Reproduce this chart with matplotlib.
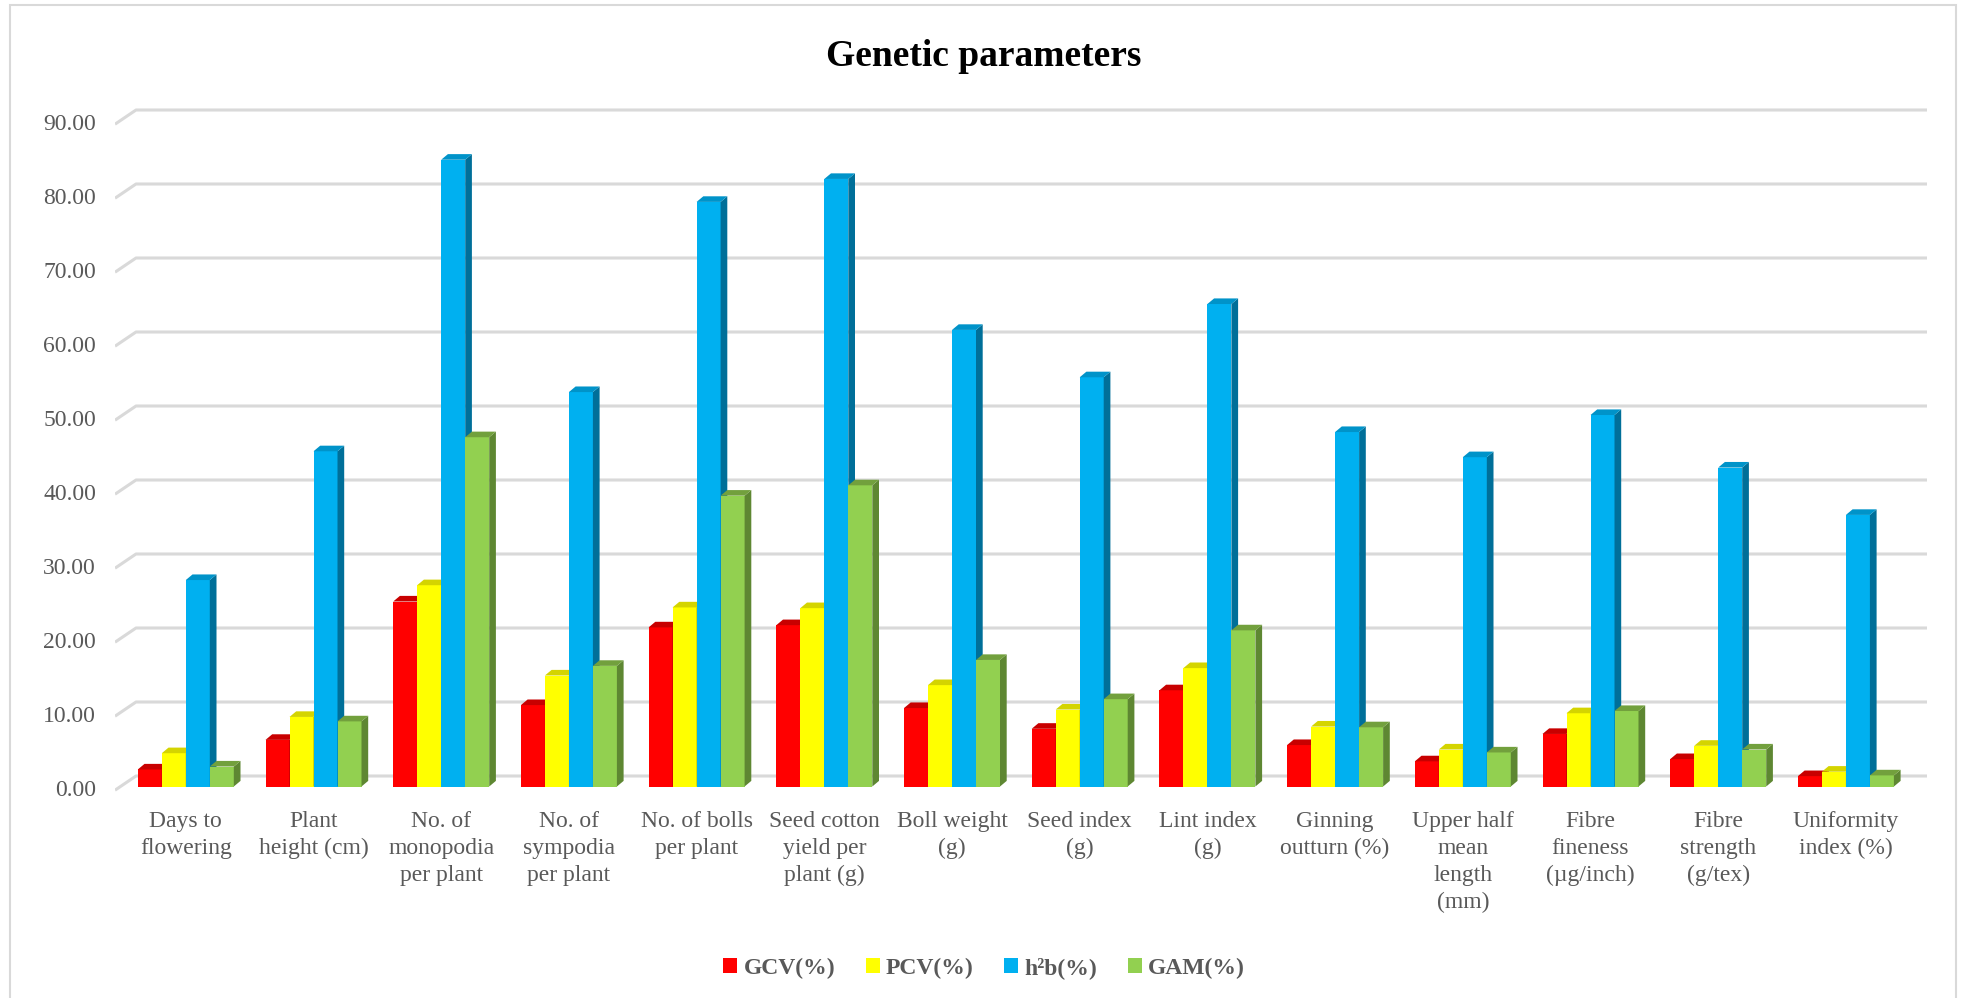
import matplotlib
matplotlib.use("Agg")
import matplotlib.pyplot as plt
from matplotlib.patches import Polygon, Rectangle, Patch
import numpy as np

# ---- data -------------------------------------------------------------
categories = [
    "Days to\nflowering", "Plant\nheight (cm)", "No. of\nmonopodia\nper plant",
    "No. of\nsympodia\nper plant", "No. of bolls\nper plant",
    "Seed cotton\nyield per\nplant (g)", "Boll weight\n(g)", "Seed index\n(g)",
    "Lint index\n(g)", "Ginning\noutturn (%)", "Upper half\nmean\nlength\n(mm)",
    "Fibre\nfineness\n(\u00b5g/inch)", "Fibre\nstrength\n(g/tex)", "Uniformity\nindex (%)",
]
gcv = [2.3, 6.3, 25.0, 11.0, 21.5, 21.8, 10.6, 7.8, 13.0, 5.6, 3.4, 7.1, 3.7, 1.4]
pcv = [4.5, 9.4, 27.2, 15.0, 24.2, 24.1, 13.7, 10.4, 16.0, 8.1, 5.0, 9.9, 5.5, 2.0]
h2b = [27.9, 45.3, 84.7, 53.3, 79.0, 82.1, 61.7, 55.3, 65.2, 47.9, 44.5, 50.2, 43.1, 36.7]
gam = [2.7, 8.8, 47.2, 16.3, 39.3, 40.7, 17.1, 11.8, 21.1, 8.0, 4.6, 10.2, 5.0, 1.5]
series_names = ["GCV(%)", "PCV(%)", "h\u00b2b(%)", "GAM(%)"]
y_ticks = [0, 10, 20, 30, 40, 50, 60, 70, 80, 90]

# ---- styling ----------------------------------------------------------
front_c = ["#FF0000", "#FFFF00", "#00B0F0", "#92D050"]
side_c = ["#A30000", "#A8A800", "#006F99", "#5E8732"]
top_c = ["#C80000", "#D4D400", "#0093C9", "#72A03D"]
grid_c = "#D9D9D9"
text_c = "#595959"
serif = ["Liberation Serif", "DejaVu Serif"]

W, H, DPI = 1968, 998, 100
fig = plt.figure(figsize=(W / DPI, H / DPI), dpi=DPI)

# plot area in pixels
px_left, px_right, px_top, px_bottom = 115, 1950, 100, 800
x0_px, x_step = 185.8, 127.7       # first group centre, spacing between groups
y0_px, y_step = 786.5, 7.40        # zero line, pixels per unit

ax = fig.add_axes([px_left / W, 1 - px_bottom / H,
                   (px_right - px_left) / W, (px_bottom - px_top) / H])
ax.set_xlim((px_left - x0_px) / x_step, (px_right - x0_px) / x_step)
ax.set_ylim((y0_px - px_bottom) / y_step, (y0_px - px_top) / y_step)
for s in ax.spines.values():
    s.set_visible(False)
ax.set_yticks([])

# depth offsets (data units)
bar_dx, bar_dy = 6.7 / x_step, 5.6 / y_step
grid_front_dy = -3.7 / y_step
grid_back_dy = 10.5 / y_step
grid_front_x = (px_left - x0_px) / x_step
grid_back_x = (136 - x0_px) / x_step
grid_end_x = (1927 - x0_px) / x_step

# gridlines: front stub + back wall line
for v in y_ticks:
    ax.plot([grid_front_x, grid_back_x, grid_end_x],
            [v + grid_front_dy, v + grid_back_dy, v + grid_back_dy],
            color=grid_c, lw=2.2, zorder=1, solid_capstyle="butt")
    ax.text(grid_front_x - 19 / x_step, v + grid_front_dy, f"{v:.2f}",
            ha="right", va="center", fontsize=17, color=text_c, family=serif)

# 3-D looking clustered columns
series = [gcv, pcv, h2b, gam]
bw = 24.0 / x_step
x = np.arange(len(categories))
z = 2
for gi in range(len(categories)):
    for si, vals in enumerate(series):
        v = vals[gi]
        xl = x[gi] + (si - 2) * bw
        xr = xl + bw
        ax.bar(xl, v, width=bw, align="edge", color=front_c[si],
               edgecolor="none", zorder=z)
        ax.add_patch(Polygon([(xr, 0), (xr + bar_dx, bar_dy),
                              (xr + bar_dx, v + bar_dy), (xr, v)],
                             closed=True, facecolor=side_c[si],
                             edgecolor="none", zorder=z))
        ax.add_patch(Polygon([(xl, v), (xr, v), (xr + bar_dx, v + bar_dy),
                              (xl + bar_dx, v + bar_dy)],
                             closed=True, facecolor=top_c[si],
                             edgecolor="none", zorder=z))
        z += 1

ax.set_xticks(x)
ax.set_xticklabels(categories, fontsize=17, color=text_c, family=serif,
                   linespacing=1.36)
ax.tick_params(axis="x", length=0, pad=8)

# title
fig.text(0.5, 1 - 57 / H, "Genetic parameters", ha="center", va="center",
         fontsize=27, fontweight="bold", family=serif, color="black")

# legend
handles = [Patch(facecolor=c, edgecolor="none") for c in front_c]
leg = fig.legend(handles, series_names, loc="center",
                 bbox_to_anchor=(0.5, 1 - 968 / H), ncol=4, frameon=False,
                 prop={"family": serif, "weight": "bold", "size": 17},
                 labelcolor=text_c, handlelength=0.6, handleheight=0.6,
                 handletextpad=0.25, columnspacing=1.3)

# outer chart border
fig.patches.append(Rectangle((10 / W, -0.01), (1956 - 10) / W, 1.01 - 5 / H,
                             transform=fig.transFigure, fill=False,
                             edgecolor=grid_c, lw=1.5))

fig.savefig("out.png", dpi=DPI, facecolor="white")
